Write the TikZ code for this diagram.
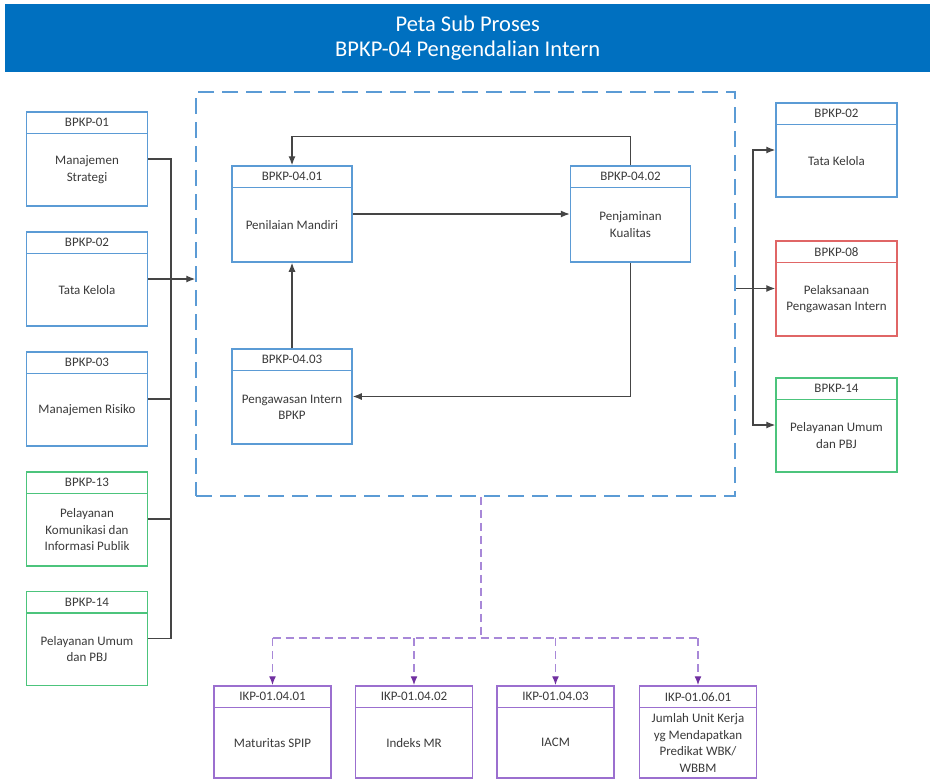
\documentclass[tikz,border=0pt]{standalone}
\usepackage{fontspec}
\setmainfont{Carlito}
\usetikzlibrary{arrows.meta,positioning}
\definecolor{barblue}{HTML}{0070C0}
\definecolor{boxblue}{HTML}{5B9BD5}
\definecolor{boxgreen}{HTML}{4CC47C}
\definecolor{boxred}{HTML}{E06666}
\definecolor{boxpurple}{HTML}{9B6FCF}
\definecolor{linepurple}{HTML}{A888D8}
\definecolor{arrpurple}{HTML}{7030A0}
\definecolor{linegray}{HTML}{454545}
\definecolor{txtgray}{HTML}{3A3A3A}

\begin{document}
\begin{tikzpicture}[x=1pt,y=-1pt]
  \tikzset{ box/.style={draw=#1,line width=1.5pt,minimum width=121pt,minimum height=94pt,inner sep=0pt},
    head/.style={draw=#1,line width=1.5pt,minimum width=121pt,minimum height=21.5pt,inner sep=0pt,
      anchor=north,font=\fontsize{13}{15}\selectfont,text=txtgray},
    txt/.style={align=center,font=\fontsize{13}{16.5}\selectfont,text=txtgray,inner sep=0pt},
    conn/.style={draw=linegray,line width=1.2pt},
    arr/.style={conn,-{Latex[length=9pt,width=7pt]}},
    ikp/.style={draw=linepurple,line width=1.4pt,dash pattern=on 8pt off 5pt},
    ikparr/.style={ikp,-{Latex[length=9pt,width=7pt,color=arrpurple]}},
    frame/.style={draw=boxblue,line width=1.5pt,dash pattern=on 16pt off 8pt,
      minimum width=539pt,minimum height=404pt,inner sep=0pt},
  }
  \useasboundingbox (0,0) rectangle (930,779);

  % title bar
  \node[fill=barblue,text=white,anchor=north west,minimum width=925pt,minimum height=68pt,
    align=center,font=\fontsize{22.5}{25}\selectfont] (title) at (5,4)
    {Peta Sub Proses\\BPKP-04 Pengendalian Intern};

  % left column
  \node[box=boxblue] (l1) at (87,159) {};
  \node[head=boxblue] (l1h) at (l1.north) {BPKP-01};
  \node[txt] (l1t) at ([yshift=-10.75pt]l1.center) {Manajemen\\Strategi};
  \node[box=boxblue] (l2) at (87,279) {};
  \node[head=boxblue] (l2h) at (l2.north) {BPKP-02};
  \node[txt] (l2t) at ([yshift=-10.75pt]l2.center) {Tata Kelola};
  \node[box=boxblue] (l3) at (87,399) {};
  \node[head=boxblue] (l3h) at (l3.north) {BPKP-03};
  \node[txt] (l3t) at ([yshift=-10.75pt]l3.center) {Manajemen Risiko};
  \node[box=boxgreen] (l4) at (87,519) {};
  \node[head=boxgreen] (l4h) at (l4.north) {BPKP-13};
  \node[txt] (l4t) at ([yshift=-10.75pt]l4.center) {Pelayanan\\Komunikasi dan\\Informasi Publik};
  \node[box=boxgreen] (l5) at (87,638.5) {};
  \node[head=boxgreen] (l5h) at (l5.north) {BPKP-14};
  \node[txt] (l5t) at ([yshift=-10.75pt]l5.center) {Pelayanan Umum\\dan PBJ};

  % sub process frame
  \node[frame] (frame) at (465.5,294) {};
  \node[box=boxblue,minimum width=120pt,minimum height=96pt] (i1) at (292,214) {};
  \node[head=boxblue,minimum width=120pt] (i1h) at (i1.north) {BPKP-04.01};
  \node[txt] (i1t) at ([yshift=-10.75pt]i1.center) {Penilaian Mandiri};
  \node[box=boxblue,minimum width=120pt,minimum height=96pt] (i2) at (630.5,214) {};
  \node[head=boxblue,minimum width=120pt] (i2h) at (i2.north) {BPKP-04.02};
  \node[txt] (i2t) at ([yshift=-10.75pt]i2.center) {Penjaminan\\Kualitas};
  \node[box=boxblue,minimum width=120pt,minimum height=95pt] (i3) at (292,396.5) {};
  \node[head=boxblue,minimum width=120pt] (i3h) at (i3.north) {BPKP-04.03};
  \node[txt] (i3t) at ([yshift=-10.75pt]i3.center) {Pengawasan Intern\\BPKP};

  % right column
  \node[box=boxblue] (r1) at (836.5,150) {};
  \node[head=boxblue] (r1h) at (r1.north) {BPKP-02};
  \node[txt] (r1t) at ([yshift=-10.75pt]r1.center) {Tata Kelola};
  \node[box=boxred,minimum height=95pt] (r2) at (836.5,288.5) {};
  \node[head=boxred] (r2h) at (r2.north) {BPKP-08};
  \node[txt] (r2t) at ([yshift=-10.75pt]r2.center) {Pelaksanaan\\Pengawasan Intern};
  \node[box=boxgreen] (r3) at (836.5,425) {};
  \node[head=boxgreen] (r3h) at (r3.north) {BPKP-14};
  \node[txt] (r3t) at ([yshift=-10.75pt]r3.center) {Pelayanan Umum\\dan PBJ};

  % indicators
  \node[box=boxpurple,minimum width=117pt,minimum height=92pt] (b1) at (272.5,732) {};
  \node[head=boxpurple,minimum width=117pt] (b1h) at (b1.north) {IKP-01.04.01};
  \node[txt] (b1t) at ([yshift=-10.75pt]b1.center) {Maturitas SPIP};
  \node[box=boxpurple,minimum width=117pt,minimum height=92pt] (b2) at (414,732) {};
  \node[head=boxpurple,minimum width=117pt] (b2h) at (b2.north) {IKP-01.04.02};
  \node[txt] (b2t) at ([yshift=-10.75pt]b2.center) {Indeks MR};
  \node[box=boxpurple,minimum width=117pt,minimum height=92pt] (b3) at (555.5,732) {};
  \node[head=boxpurple,minimum width=117pt] (b3h) at (b3.north) {IKP-01.04.03};
  \node[txt] (b3t) at ([yshift=-10.75pt]b3.center) {IACM};
  \node[box=boxpurple,minimum width=117pt,minimum height=92pt] (b4) at (698,732) {};
  \node[head=boxpurple,minimum width=117pt] (b4h) at (b4.north) {IKP-01.06.01};
  \node[txt] (b4t) at ([yshift=-10.75pt]b4.center) {Jumlah Unit Kerja\\yg Mendapatkan\\Predikat WBK/\\WBBM};

  % inputs
  \coordinate (lbus) at (171,279);
  \draw[conn] (l1.east) -| (lbus |- l5.east) -- (l5.east);
  \draw[conn] (l3.east) -- (l3.east -| lbus);
  \draw[conn] (l4.east) -- (l4.east -| lbus);
  \draw[arr] (l2.east) -- (l2.east -| frame.west);

  % flow inside
  \draw[arr] (i1.east) -- (i2.west);
  \draw[arr] (i2.north) -- ++(0pt,29pt) -| (i1.north);
  \draw[arr] (i2.south) |- (i3.east);
  \draw[arr] (i3.north) -- (i1.south);

  % outputs
  \coordinate (rbus) at (753,288.5);
  \draw[conn] (frame.east |- rbus) -- (rbus);
  \draw[arr] (rbus) |- (r1.west);
  \draw[arr] (rbus) -- (r2.west);
  \draw[arr] (rbus) |- (r3.west);

  % indicators links
  \coordinate (pjoin) at (481,638);
  \draw[ikp] (pjoin |- frame.south) -- (pjoin);
  \draw[ikp] (b1.north |- pjoin) -- (b4.north |- pjoin);
  \draw[ikparr] (b1.north |- pjoin) -- (b1.north);
  \draw[ikparr] (b2.north |- pjoin) -- (b2.north);
  \draw[ikparr] (b3.north |- pjoin) -- (b3.north);
  \draw[ikparr] (b4.north |- pjoin) -- (b4.north);
\end{tikzpicture}
\end{document}
